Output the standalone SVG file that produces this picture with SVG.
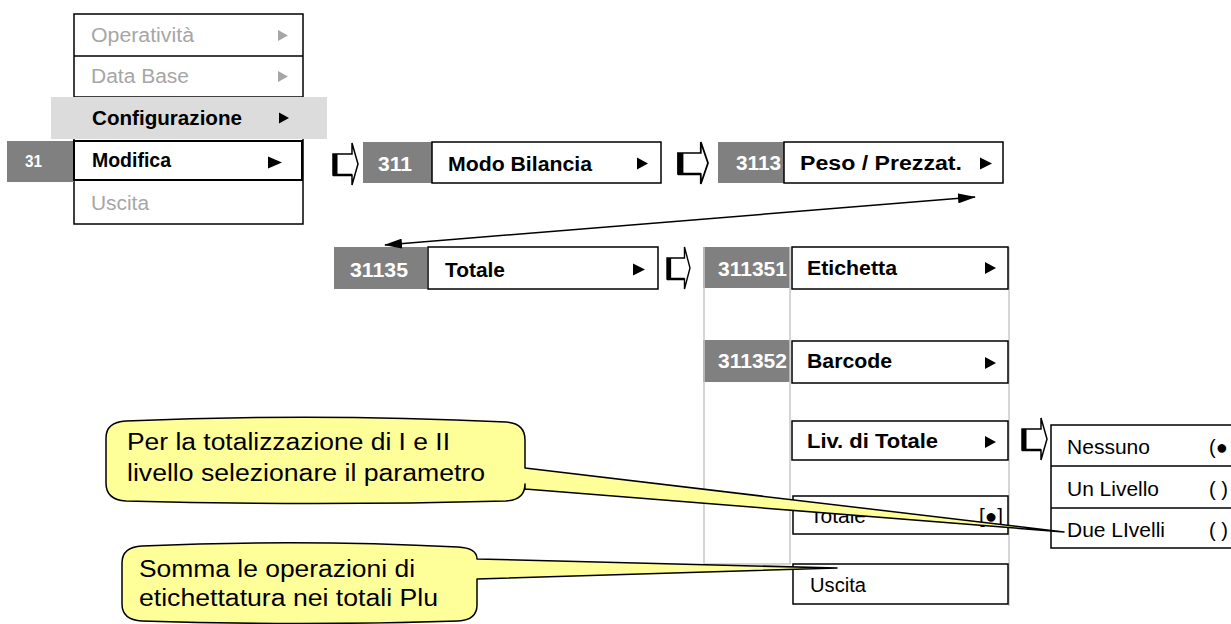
<svg xmlns="http://www.w3.org/2000/svg" xmlns:xlink="http://www.w3.org/1999/xlink" width="1231" height="624" viewBox="0 0 1231 624">
<style>
text{font-family:"Liberation Sans",Arial,sans-serif;font-size:20px;fill:#000}
.b{font-weight:bold}
.g{fill:#a6a6a6}
.w{fill:#fff;font-weight:bold}
.num{fill:#808080}
.box{fill:#fff;stroke:#000;stroke-width:1.5}
.grid{stroke:#c8c8c8;stroke-width:1.5;fill:none}
.tri{fill:#000}
.trig{fill:#a6a6a6}
.call{fill:#ffff99;stroke:#000;stroke-width:1.5;stroke-linejoin:round}
.ct{font-size:23px}
.sm{font-size:17px}
</style>
<defs>
<symbol id="blk" viewBox="0 0 25 42" preserveAspectRatio="none" overflow="visible">
<path d="M0,11 H19 V0 L25,21 L19,42 V32 H0 Z" fill="#fff" stroke="#000" stroke-width="1.5"/>
<rect x="0" y="11" width="4.5" height="21" fill="#000"/>
<line x1="0" y1="32" x2="19" y2="32" stroke="#000" stroke-width="2.5"/>
</symbol>
<marker id="ah" viewBox="0 0 18 10" markerWidth="18" markerHeight="10" refX="17" refY="5" orient="auto-start-reverse" markerUnits="userSpaceOnUse">
<path d="M0,0 L18,5 L0,10 Z" fill="#000"/>
</marker>
</defs>

<g id="menu-main">
<rect class="box" x="74" y="14" width="229" height="210"/>
<line x1="74" y1="56" x2="303" y2="56" stroke="#000" stroke-width="1.5"/>
<line x1="74" y1="97" x2="303" y2="97" stroke="#000" stroke-width="1.5"/>
<text class="g" x="91" y="42" textLength="103" lengthAdjust="spacingAndGlyphs">Operatività</text>
<polygon class="trig" points="278,30 288,35.5 278,41"/>
<text class="g" x="91" y="83" textLength="98" lengthAdjust="spacingAndGlyphs">Data Base</text>
<polygon class="trig" points="278,71 288,76.5 278,82"/>
<rect x="51" y="97" width="276" height="42" fill="#dcdcdc"/>
<text class="b" x="92" y="125" textLength="150" lengthAdjust="spacingAndGlyphs">Configurazione</text>
<polygon class="tri" points="279,112.5 289,118 279,123.5"/>
<rect x="7" y="141" width="67" height="41" class="num"/>
<text class="w sm" x="25" y="167" textLength="17" lengthAdjust="spacingAndGlyphs">31</text>
<rect x="74" y="141" width="228" height="39" fill="#fff" stroke="#000" stroke-width="2"/>
<text class="b" x="92" y="167" textLength="79" lengthAdjust="spacingAndGlyphs">Modifica</text>
<polygon class="tri" points="268,156.5 282,162.5 268,168.5"/>
<text class="g" x="91" y="210" textLength="58" lengthAdjust="spacingAndGlyphs">Uscita</text>
</g>

<g id="node-311">
<rect class="num" x="363" y="142" width="69" height="41"/>
<text class="w" x="378" y="171" textLength="34" lengthAdjust="spacingAndGlyphs">311</text>
<rect class="box" x="432" y="142" width="229" height="41"/>
<text class="b" x="448" y="171" textLength="144" lengthAdjust="spacingAndGlyphs">Modo Bilancia</text>
<polygon class="tri" points="637,157.5 648,163.5 637,169.5"/>
</g>

<g id="node-3113">
<rect class="num" x="718" y="142" width="66" height="41"/>
<text class="w" x="736" y="170" textLength="45" lengthAdjust="spacingAndGlyphs">3113</text>
<rect class="box" x="784" y="142" width="219" height="41"/>
<text class="b" x="800" y="170" textLength="162" lengthAdjust="spacingAndGlyphs">Peso / Prezzat.</text>
<polygon class="tri" points="980,157.5 992,163.5 980,169.5"/>
</g>

<g id="node-31135">
<rect class="num" x="334" y="247" width="93" height="42"/>
<text class="w" x="350" y="277" textLength="58" lengthAdjust="spacingAndGlyphs">31135</text>
<rect class="box" x="428" y="247" width="230" height="42"/>
<text class="b" x="445" y="277" textLength="60" lengthAdjust="spacingAndGlyphs">Totale</text>
<polygon class="tri" points="633,263.5 645,269.5 633,275.5"/>
</g>

<g id="menu-31135">
<rect class="num" x="703" y="247" width="87" height="41"/>
<rect class="num" x="703" y="340" width="87" height="42"/>
<polyline class="grid" points="704,247 704,564 790,564 790,247"/>
<line class="grid" x1="1009" y1="247" x2="1009" y2="606"/>
<g id="node-311351">
<text class="w" x="718" y="276" textLength="69" lengthAdjust="spacingAndGlyphs">311351</text>
<rect class="box" x="792" y="247" width="216" height="42"/>
<text class="b" x="807" y="275" textLength="90" lengthAdjust="spacingAndGlyphs">Etichetta</text>
<polygon class="tri" points="985,262 996,268 985,274"/>
</g>
<g id="node-311352">
<text class="w" x="718" y="368" textLength="69" lengthAdjust="spacingAndGlyphs">311352</text>
<rect class="box" x="792" y="341" width="216" height="42"/>
<text class="b" x="807" y="368" textLength="85" lengthAdjust="spacingAndGlyphs">Barcode</text>
<polygon class="tri" points="985,357 996,363 985,369"/>
</g>
<g id="node-liv">
<rect class="box" x="792" y="421" width="216" height="39"/>
<text class="b" x="807" y="448" textLength="131" lengthAdjust="spacingAndGlyphs">Liv. di Totale</text>
<polygon class="tri" points="985,436 996,442 985,448"/>
</g>
<g id="node-totale">
<rect class="box" x="793" y="496" width="215" height="38"/>
<text x="810" y="523" textLength="56" lengthAdjust="spacingAndGlyphs">Totale</text>
<text x="979" y="523" textLength="24" lengthAdjust="spacingAndGlyphs">[●]</text>
</g>
<g id="node-uscita">
<rect class="box" x="793" y="564" width="215" height="40"/>
<text x="810" y="592" textLength="56" lengthAdjust="spacingAndGlyphs">Uscita</text>
</g>
</g>

<g id="menu-livelli">
<rect class="box" x="1051" y="425" width="200" height="123"/>
<line x1="1051" y1="466" x2="1231" y2="466" stroke="#000" stroke-width="1.5"/>
<line x1="1051" y1="508" x2="1231" y2="508" stroke="#000" stroke-width="1.5"/>
<text x="1067" y="454" textLength="83" lengthAdjust="spacingAndGlyphs">Nessuno</text>
<text x="1209" y="454">(●</text>
<text x="1067" y="496" textLength="92" lengthAdjust="spacingAndGlyphs">Un Livello</text>
<text x="1209" y="496" textLength="19" lengthAdjust="spacingAndGlyphs">( )</text>
<text x="1067" y="537" textLength="98" lengthAdjust="spacingAndGlyphs">Due LIvelli</text>
<text x="1209" y="537" textLength="19" lengthAdjust="spacingAndGlyphs">( )</text>
</g>

<g id="connectors">
<use href="#blk" xlink:href="#blk" x="333" y="143" width="25" height="42"/>
<use href="#blk" xlink:href="#blk" x="678" y="142" width="30" height="42"/>
<use href="#blk" xlink:href="#blk" x="667" y="247" width="23" height="42"/>
<use href="#blk" xlink:href="#blk" x="1022" y="418" width="25" height="42"/>
<line x1="385" y1="245" x2="975" y2="197" stroke="#000" stroke-width="1.5" marker-start="url(#ah)" marker-end="url(#ah)"/>
</g>

<g id="callout-livelli">
<path class="call" d="M126,421 Q315,413 506,422 Q525,423 525,440 L525,468 L1064,532 L525,489 L525,484 Q525,500 506,501 Q315,506 126,501 Q106,500 106,483 L106,438 Q106,422 126,421 Z"/>
<text class="ct" x="127" y="450" textLength="323" lengthAdjust="spacingAndGlyphs">Per la totalizzazione di I e II</text>
<text class="ct" x="127" y="481" textLength="358" lengthAdjust="spacingAndGlyphs">livello selezionare il parametro</text>
</g>

<g id="callout-totale">
<path class="call" d="M142,546 Q300,539 458,547 Q477,548 477,559 L837,568 L477,579 L477,605 Q477,620 458,621 Q300,626 142,621 Q122,620 122,604 L122,563 Q122,547 142,546 Z"/>
<text class="ct" x="139" y="577" textLength="276" lengthAdjust="spacingAndGlyphs">Somma le operazioni di</text>
<text class="ct" x="139" y="606" textLength="299" lengthAdjust="spacingAndGlyphs">etichettatura nei totali Plu</text>
</g>
</svg>
